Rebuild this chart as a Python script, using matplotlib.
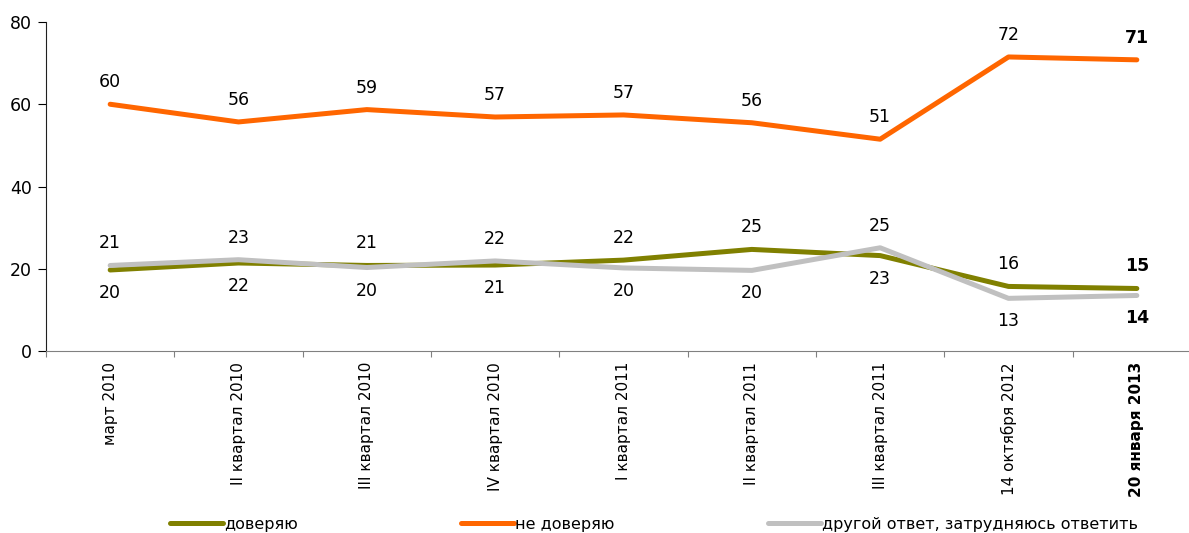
import matplotlib
matplotlib.use("Agg")
import matplotlib.pyplot as plt
from matplotlib import rcParams

rcParams.update({"font.family": ["DejaVu Sans"], "font.size": 11})

categories = ["март 2010", "II квартал 2010", "III квартал 2010", "IV квартал 2010",
              "I квартал 2011", "II квартал 2011", "III квартал 2011",
              "14 октября 2012", "20 января 2013"]
trust = [19.7, 21.4, 20.8, 20.9, 22.1, 24.7, 23.2, 15.7, 15.2]
distrust = [60.0, 55.7, 58.7, 56.9, 57.4, 55.5, 51.5, 71.5, 70.8]
other = [20.8, 22.2, 20.3, 21.9, 20.2, 19.6, 25.1, 12.8, 13.5]
trust_lbl = [20, 22, 21, 21, 22, 25, 23, 16, 15]
distrust_lbl = [60, 56, 59, 57, 57, 56, 51, 72, 71]
other_lbl = [21, 23, 20, 22, 20, 20, 25, 13, 14]
names = ["доверяю", "не доверяю", "другой ответ, затрудняюсь ответить"]

C_TRUST, C_DIST, C_OTHER = "#808000", "#FF6600", "#C0C0C0"

fig = plt.figure(figsize=(11.89, 5.33), dpi=100)
ax = fig.add_axes([46/1189, 1-351/533, (1201-46)/1189, (351-22)/533])
x = list(range(len(categories)))
l1, = ax.plot(x, trust, color=C_TRUST, lw=3.6, solid_capstyle="round", zorder=3)
l2, = ax.plot(x, distrust, color=C_DIST, lw=3.6, solid_capstyle="round", zorder=3)
l3, = ax.plot(x, other, color=C_OTHER, lw=3.6, solid_capstyle="round", zorder=4)

last = len(categories) - 1
def lab(i, y, s, dy):
    ax.annotate(str(s), (i, y), xytext=(0, dy), textcoords="offset pixels",
                ha="center", va="center", fontsize=12.5,
                fontweight="bold" if i == last else "normal")

for i in x:
    lab(i, distrust[i], distrust_lbl[i], 22)
    if trust[i] >= other[i]:
        lab(i, trust[i], trust_lbl[i], 22)
        lab(i, other[i], other_lbl[i], -23)
    else:
        lab(i, other[i], other_lbl[i], 22)
        lab(i, trust[i], trust_lbl[i], -23)

ax.set_ylim(0, 80)
ax.set_xlim(-0.5, len(categories) - 0.5)
ax.set_yticks([0, 20, 40, 60, 80])
ax.tick_params(axis="y", labelsize=12.5, length=6, direction="out", pad=4)
# category boundaries carry the tick marks, centres carry the labels
ax.set_xticks([i + 0.5 for i in range(-1, len(categories))], minor=False)
ax.set_xticklabels([])
ax.tick_params(axis="x", length=4, color="#808080")
ax.set_xticks(x, minor=True)
ax.set_xticklabels(categories, minor=True, rotation=90, ha="center", va="top", fontsize=11)
ax.tick_params(axis="x", which="minor", length=0, pad=8)
ax.get_xticklabels(minor=True)[last].set_fontweight("bold")
for s in ["top", "right"]:
    ax.spines[s].set_visible(False)
ax.spines["bottom"].set_color("#808080")
ax.spines["left"].set_color("#202020")

# legend entries placed individually like the original
for h, n, xpos in [(l1, names[0], 170), (l2, names[1], 461), (l3, names[2], 768)]:
    fig.legend([h], [n], loc="center left", bbox_to_anchor=(xpos/1189, 1-524/533),
               frameon=False, fontsize=11.5, handlelength=3.3, handletextpad=0.1,
               borderpad=0, borderaxespad=0)

fig.savefig("out.png", dpi=100)
